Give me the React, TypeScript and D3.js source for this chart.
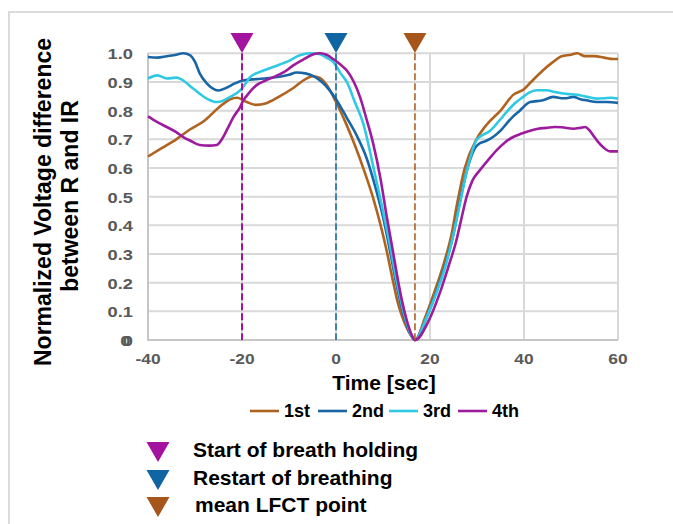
import React from 'react';
import * as d3 from 'd3';

// breath holding trials - normalized R/IR voltage difference

const xTicks = [-40, -20, 0, 20, 40, 60];
const yTicks = [0.1, 0.2, 0.3, 0.4, 0.5, 0.6, 0.7, 0.8, 0.9, 1.0];
const seriesNames = ['1st', '2nd', '3rd', '4th'];
const seriesColors = ['#b0621f', '#1966a6', '#2fc9e3', '#9d1c9d'];

const first = [
  [-40, 0.64], [-37, 0.67], [-34, 0.7], [-31, 0.735], [-28, 0.765], [-25, 0.81], [-22.5, 0.84],
  [-21, 0.845], [-19, 0.83], [-17, 0.82], [-15, 0.825], [-12, 0.85], [-9, 0.88], [-6.5, 0.91],
  [-5, 0.92], [-3.5, 0.915], [-2, 0.89], [0, 0.83], [2, 0.76], [4, 0.68], [6, 0.59], [8, 0.49],
  [9.5, 0.4], [10.8, 0.31], [12, 0.215], [13, 0.14], [14, 0.085], [15, 0.045], [16, 0.015],
  [16.8, 0], [19, 0.08], [21, 0.17], [23, 0.27], [24.6, 0.37], [25.7, 0.47], [27.4, 0.6],
  [29.9, 0.7], [32, 0.75], [35, 0.8], [37.7, 0.855], [40, 0.875],
  [41.5, 0.9], [44, 0.94], [46.2, 0.97], [48, 0.99], [50, 0.995], [51.3, 1.0], [53, 0.99],
  [55, 0.99], [57, 0.985], [59, 0.98], [60, 0.98]
];

const second = [
  [-40, 0.987], [-38, 0.985], [-36, 0.99], [-34, 0.995], [-32.5, 1.0], [-31, 0.993], [-30, 0.97],
  [-29, 0.93], [-27.5, 0.895], [-26, 0.875], [-25, 0.87], [-23.3, 0.88], [-21.5, 0.895],
  [-19.8, 0.905], [-17, 0.91], [-14.7, 0.913], [-12, 0.918], [-10, 0.925], [-8.4, 0.933],
  [-6.5, 0.93], [-4.5, 0.918], [-3, 0.9], [-1.3, 0.87], [0, 0.84], [2.3, 0.775], [4.5, 0.71],
  [6.5, 0.635], [8.6, 0.52], [10, 0.43], [11.5, 0.31], [12.8, 0.2], [13.8, 0.125], [15, 0.055],
  [16, 0.016], [16.8, 0], [19.3, 0.08], [21.4, 0.17], [23.4, 0.27], [25, 0.37], [26.2, 0.47],
  [28, 0.6], [29.6, 0.67], [30.6, 0.686], [32, 0.695], [33.4, 0.708],
  [35, 0.73], [36.3, 0.755], [37.7, 0.78], [39.1, 0.8], [41.3, 0.83], [44, 0.836], [46.2, 0.848],
  [48, 0.843], [49, 0.843], [50.5, 0.848], [52, 0.84], [53.3, 0.836], [55.5, 0.83], [57.6, 0.83],
  [60, 0.827]
];

const third = [
  [-40, 0.912], [-38, 0.923], [-36, 0.912], [-34, 0.915], [-33, 0.91], [-30.4, 0.877],
  [-27.5, 0.842], [-25.4, 0.83], [-24, 0.835], [-22.5, 0.848], [-20.4, 0.871], [-19, 0.9],
  [-18.3, 0.917], [-16.2, 0.935], [-13.4, 0.952], [-10.5, 0.97], [-7.7, 0.993], [-5.5, 1.0],
  [-3.4, 0.997], [-2, 0.985], [-0.6, 0.97], [1, 0.93], [2.3, 0.9], [4, 0.83], [5.8, 0.755],
  [8, 0.6], [10, 0.45], [11.5, 0.33], [12.8, 0.215], [14, 0.125], [15, 0.062], [16, 0.018],
  [16.8, 0], [19.3, 0.08], [21.5, 0.17], [23.5, 0.27], [25, 0.37], [26.3, 0.47],
  [28, 0.6], [30, 0.7], [32.8, 0.73], [35, 0.77], [36.3, 0.795], [38, 0.825],
  [39.8, 0.848], [41, 0.862], [42.7, 0.871], [44.8, 0.871], [46.5, 0.865], [48.3, 0.86],
  [50, 0.857], [51.9, 0.854], [53.5, 0.848], [55.4, 0.842], [57, 0.843], [58.5, 0.845], [60, 0.842]
];

const fourth = [
  [-40, 0.78], [-38, 0.76], [-36, 0.743], [-34, 0.725], [-32.5, 0.708], [-31, 0.695], [-29, 0.68],
  [-27, 0.678], [-25.4, 0.68], [-24, 0.708], [-23, 0.74], [-21.8, 0.778], [-20.5, 0.81],
  [-19.7, 0.836], [-18.5, 0.862], [-16.9, 0.889], [-15, 0.905], [-13.3, 0.917], [-11, 0.935],
  [-9.1, 0.958], [-7, 0.978], [-4.8, 0.997], [-3.4, 1.0], [-2, 0.995], [-0.6, 0.98], [1, 0.96],
  [2.3, 0.94], [3.8, 0.9], [5.1, 0.848], [6.5, 0.77], [7.9, 0.686], [9.5, 0.56], [10.8, 0.43],
  [12, 0.32], [13, 0.225], [14, 0.14], [15, 0.072], [16, 0.022], [16.8, 0], [19.8, 0.07],
  [22, 0.16], [24, 0.26], [25.5, 0.34], [26.5, 0.41], [27.8, 0.5],
  [29, 0.555], [30.6, 0.592], [32.5, 0.63], [34.2, 0.662], [36, 0.69], [37.7, 0.708],
  [39.5, 0.72], [41.3, 0.73], [43, 0.737], [44.8, 0.74], [46.5, 0.743], [48, 0.742],
  [50.5, 0.737], [52, 0.74], [53, 0.743], [54, 0.73], [54.7, 0.714], [55.8, 0.69],
  [56.8, 0.673], [58.3, 0.658], [60, 0.658]
];

const seriesData = [first, second, third, fourth];

const markerTimes = [-20, 0, 16.8];
const markerColors = ['#a3139f', '#0f64a2', '#a6561a'];
const markerLabels = ['Start of breath holding', 'Restart of breathing', 'mean LFCT point'];

const FONT = '"Liberation Sans", Arial, sans-serif';

// horizontally stretched text (the tick labels in the source are wide)
const SText = ({ x, y, sx = 1, anchor = 'start', size, fill, children }: any) => (
  <text
    transform={`translate(${x},${y}) scale(${sx},1)`}
    textAnchor={anchor}
    fontFamily={FONT}
    fontWeight="bold"
    fontSize={size}
    fill={fill}
  >
    {children}
  </text>
);

export default function App() {
  const width = 673;
  const height = 524;

  const x = d3.scaleLinear().domain([-40, 60]).range([148, 618]);
  const y = d3.scaleLinear().domain([0, 1]).range([340, 53.3]);

  const line = d3.line<any>()
    .x((d) => x(d[0]))
    .y((d) => y(d[1]))
    .curve(d3.curveMonotoneX);

  const tri = (cx: number, top: number, w: number, h: number) =>
    `M${cx - w / 2},${top}L${cx + w / 2},${top}L${cx},${top + h}Z`;

  return (
    <svg width={width} height={height} style={{ position: 'absolute', left: 0, top: 0 }}>
      <rect x={0} y={0} width={width} height={height} fill="#fff" />
      <rect x={9} y={12} width={720} height={600} fill="none" stroke="#dcdcdc" strokeWidth={2} />

      {/* grid */}
      {yTicks.map((t) => (
        <line key={'gy' + t} x1={x(-40)} x2={x(60)} y1={y(t)} y2={y(t)} stroke="#d9d9d9" strokeWidth={2} />
      ))}
      {xTicks.slice(1).map((t) => (
        <line key={'gx' + t} x1={x(t)} x2={x(t)} y1={y(0)} y2={y(1)} stroke="#d9d9d9" strokeWidth={2} />
      ))}
      <line x1={x(-40)} x2={x(-40)} y1={y(0) + 1} y2={y(1)} stroke="#c6c6c6" strokeWidth={2} />
      <line x1={x(-40)} x2={x(60)} y1={y(0)} y2={y(0)} stroke="#c6c6c6" strokeWidth={2} />

      {/* tick labels */}
      {yTicks.map((t) => (
        <SText key={'ty' + t} x={133} y={y(t) + 6} sx={1.18} anchor="end" size={15.5} fill="#595959">
          {t.toFixed(1)}
        </SText>
      ))}
      {/* the zero label in the source is printed twice, slightly offset */}
      <SText x={133} y={y(0) + 6} sx={1.18} anchor="end" size={15.5} fill="#595959">
        0<tspan dx={-6.5}>0</tspan>
      </SText>
      {xTicks.map((t) => (
        <SText key={'tx' + t} x={x(t)} y={364} sx={1.12} anchor="middle" size={15.5} fill="#595959">
          {t}
        </SText>
      ))}

      {/* series */}
      {seriesData.map((s, i) => (
        <path key={'s' + i} d={line(s as any) || ''} fill="none" stroke={seriesColors[i]} strokeWidth={2.6} />
      ))}

      {/* event markers */}
      {markerTimes.map((t, i) => (
        <g key={'m' + i}>
          <line x1={x(t)} x2={x(t)} y1={y(1)} y2={y(0)} stroke={markerColors[i]}
            strokeWidth={i === 0 ? 2 : 1.5} strokeDasharray="7,3" />
          <path d={tri(x(t), 33, 23, 20)} fill={markerColors[i]} />
        </g>
      ))}

      {/* axis titles */}
      <text x={384} y={390} textAnchor="middle" fontFamily={FONT} fontWeight="bold" fontSize={21} fill="#000">
        Time [sec]
      </text>
      <text transform="translate(51,202) rotate(-90)" textAnchor="middle" fontFamily={FONT}
        fontWeight="bold" fontSize={23} fill="#000">
        Normalized Voltage difference
      </text>
      <text transform="translate(78,196) rotate(-90)" textAnchor="middle" fontFamily={FONT}
        fontWeight="bold" fontSize={23} fill="#000">
        between R and IR
      </text>

      {/* series legend */}
      {seriesNames.map((n, i) => {
        const lx = [250, 318, 389, 458][i];
        return (
          <g key={'l' + n}>
            <line x1={lx} x2={lx + 29} y1={411} y2={411} stroke={seriesColors[i]} strokeWidth={2.6} />
            <text x={lx + 34} y={417} fontFamily={FONT} fontWeight="bold" fontSize={18} fill="#000">{n}</text>
          </g>
        );
      })}

      {/* marker legend */}
      {markerLabels.map((m, i) => (
        <g key={'ml' + i}>
          <path d={tri(158, [442, 470, 497][i], 23, 20)} fill={markerColors[i]} />
          <text x={[193, 193, 195][i]} y={[457, 485, 512][i]} fontFamily={FONT} fontWeight="bold"
            fontSize={21} fill="#000">{m}</text>
        </g>
      ))}
    </svg>
  );
}
